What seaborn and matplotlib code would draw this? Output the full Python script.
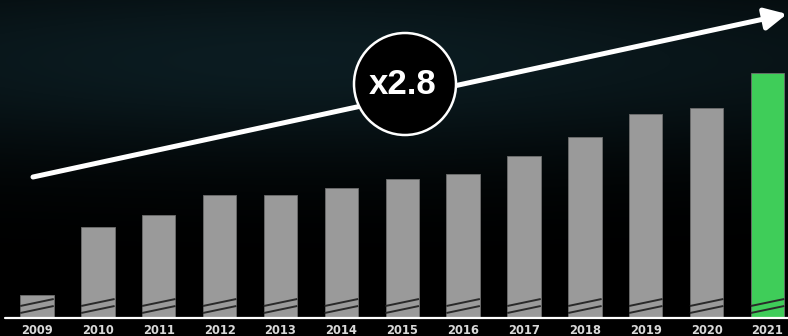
import numpy as np
import pandas as pd
import matplotlib
matplotlib.use("Agg")
import matplotlib.pyplot as plt
from matplotlib import font_manager
from matplotlib.patches import Circle
import seaborn as sns

# ---- data ----
years = ["2009", "2010", "2011", "2012", "2013", "2014", "2015",
         "2016", "2017", "2018", "2019", "2020", "2021"]
values = [23, 91, 103, 123, 123, 130, 139, 144, 162, 181, 204, 210, 245]
bar_colors = ["#9a9a9a"] * 12 + ["#3fcd59"]
multiplier_label = "x2.8"

df = pd.DataFrame({"year": years, "value": values})

sns.set_theme(style="dark")
avail = {f.name for f in font_manager.fontManager.ttflist}
label_font = "Liberation Sans Narrow" if "Liberation Sans Narrow" in avail else "DejaVu Sans"
plt.rcParams["font.family"] = ["Liberation Sans", "DejaVu Sans"]

W, H = 788, 336
fig = plt.figure(figsize=(W / 100, H / 100), dpi=100, facecolor="black")

# background gradient
bg = fig.add_axes([0, 0, 1, 1], zorder=0)
yy, xx = np.mgrid[0:H, 0:W]
inten = np.exp(-((yy - 60) / 100.0) ** 2) * (0.6 + 0.4 * np.exp(-((xx - 300) / 420.0) ** 2))
tint = np.array([0.045, 0.11, 0.13])
img = inten[..., None] * tint[None, None, :]
bg.imshow(img, extent=[0, W, H, 0], aspect="auto")
bg.set_xlim(0, W)
bg.set_ylim(H, 0)
bg.axis("off")

# bar axes: baseline at 318 px from top
base_px = 318
ax = fig.add_axes([0, (H - base_px) / H, 1, base_px / H], zorder=1)
ax.patch.set_alpha(0)
sns.barplot(data=df, x="year", y="value", hue="year", palette=bar_colors,
            legend=False, width=0.55, ax=ax, saturation=1,
            edgecolor="#6e6e6e", linewidth=0.6)
pitch = 60.875
c0 = 37.0
ax.set_xlim(-c0 / pitch, (W - c0) / pitch)
ax.set_ylim(0, base_px)
ax.axhline(0, xmin=5 / W, xmax=1, color="white", lw=1.6, zorder=5, clip_on=False)
for s in ax.spines.values():
    s.set_visible(False)
ax.set_xlabel("")
ax.set_ylabel("")
ax.set_yticks([])
ax.tick_params(axis="x", length=0, pad=4.5, labelsize=8.3, colors="#d8d8d8")
for t in ax.get_xticklabels():
    t.set_fontfamily(label_font)
    t.set_fontweight("bold")
ax.grid(False)

# axis-break marks on each bar
for p in ax.patches:
    x0 = p.get_x()
    x1 = x0 + p.get_width()
    for y0 in (5, 12):
        ax.plot([x0, x1], [y0, y0 + 7], color="#2a2a2a", lw=1.4,
                solid_capstyle="butt", zorder=4)

# overlay: arrow, circle, label (pixel coordinates, top-left origin)
ov = fig.add_axes([0, 0, 1, 1], zorder=3)
ov.set_xlim(0, W)
ov.set_ylim(H, 0)
ov.axis("off")
ov.patch.set_alpha(0)
ov.annotate("", xy=(787, 14), xytext=(33, 177),
            arrowprops=dict(arrowstyle="-|>,head_length=1.1,head_width=0.55",
                            color="white", lw=3.6, shrinkA=0, shrinkB=0))
ov.add_patch(Circle((405, 84), 51, facecolor="black", edgecolor="white", lw=1.8, zorder=5))
ov.text(403, 85, multiplier_label, color="white", fontsize=25, fontweight="bold",
        ha="center", va="center", zorder=6)

fig.savefig("out.png", dpi=100, facecolor="black")
